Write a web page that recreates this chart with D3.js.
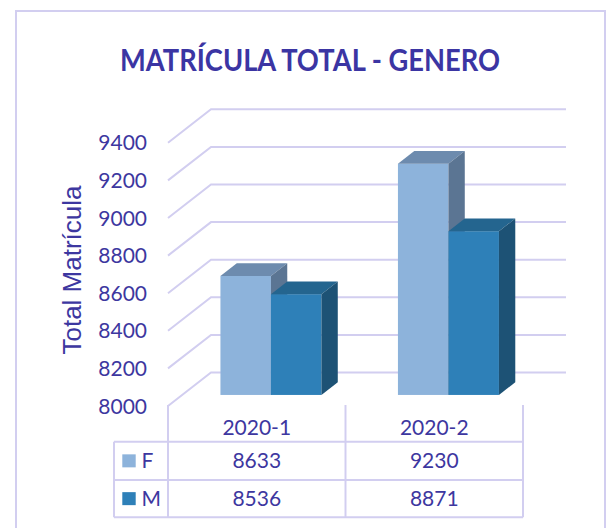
<!DOCTYPE html>
<html><head><meta charset="utf-8">
<script src="https://cdn.jsdelivr.net/npm/d3@7"></script>
<style>body{margin:0;background:#fff}</style>
</head><body>
<svg id="c" width="611" height="528"></svg>
<script>
const categories = ["2020-1", "2020-2"];
const seriesNames = ["F", "M"];
const valuesF = [8633, 9230];
const valuesM = [8536, 8871];
const yTicks = [8000, 8200, 8400, 8600, 8800, 9000, 9200, 9400];

const series = [
  {name: seriesNames[0], values: valuesF, front: "#8DB3DB", top: "#6D8BAE", side: "#5B7593"},
  {name: seriesNames[1], values: valuesM, front: "#2E80B8", top: "#24658F", side: "#1D5275"}
];

const svg = d3.select("#c");
const textCol = "#3D37A0";
const gridCol = "#D2CEF0";
const font = "Lato, 'Open Sans', sans-serif";

// 3D depth offset (back wall relative to front plane)
const DX = 43, DY = -33.5;
const z0 = 0.33, z1 = 0.71;

const x = d3.scaleBand().domain(categories).range([168, 523]).paddingInner(0).paddingOuter(0);
const xb = d3.scaleBand().domain(categories).range([168, 523]).paddingInner(0.431).paddingOuter(0.2155);
const xs = d3.scaleBand().domain(seriesNames).range([0, xb.bandwidth()]);
const y = d3.scaleLinear().domain([8000, 9400]).range([406, 142.8]);

// outer border
svg.append("rect").attr("x", 16).attr("y", 11).attr("width", 589).attr("height", 530)
  .attr("fill", "none").attr("stroke", gridCol).attr("stroke-width", 2);

// title
svg.append("text").attr("x", 310).attr("y", 71).attr("text-anchor", "middle")
  .attr("font-family", font).attr("font-weight", 700).attr("font-size", 30)
  .attr("textLength", 380).attr("lengthAdjust", "spacingAndGlyphs")
  .attr("fill", "#3B35A3").text("MATRÍCULA TOTAL - GENERO");

// gridlines: side wall diagonal + back wall horizontal
const x0 = x.range()[0], xEnd = x.range()[1];
svg.append("g").selectAll("path").data(yTicks).join("path")
  .attr("d", t => `M${x0},${y(t)} L${x0 + DX},${y(t) + DY} L${xEnd + DX},${y(t) + DY}`)
  .attr("fill", "none").attr("stroke", gridCol).attr("stroke-width", 2);

// y tick labels
svg.append("g").selectAll("text").data(yTicks).join("text")
  .attr("x", 147).attr("y", t => y(t)).attr("dy", "0.36em").attr("text-anchor", "end")
  .attr("font-family", font).attr("font-size", 21).attr("fill", textCol).text(t => t);

// axis title
svg.append("text").attr("transform", "translate(81,270) rotate(-90)").attr("text-anchor", "middle")
  .attr("font-family", "'Liberation Sans', Arial, sans-serif").attr("font-size", 26)
  .attr("fill", textCol).text("Total Matrícula");

// bars
const ox = DX * z0, oy = DY * z0;
const ddx = DX * (z1 - z0), ddy = DY * (z1 - z0);
const gBars = svg.append("g");
categories.forEach((c, i) => {
  series.forEach(s => {
    const xl = xb(c) + xs(s.name) + ox;
    const xr = xl + xs.bandwidth();
    const yt = y(s.values[i]) + oy;
    const yb = y(8000) + oy;
    gBars.append("rect").attr("x", xl).attr("y", yt).attr("width", xr - xl).attr("height", yb - yt)
      .attr("fill", s.front);
    gBars.append("path").attr("d", `M${xl},${yt} L${xl + ddx},${yt + ddy} L${xr + ddx},${yt + ddy} L${xr},${yt} Z`)
      .attr("fill", s.top);
    gBars.append("path").attr("d", `M${xr},${yt} L${xr + ddx},${yt + ddy} L${xr + ddx},${yb + ddy} L${xr},${yb} Z`)
      .attr("fill", s.side);
  });
});

// data table
const tTop = 405, r1 = 441.7, r2 = 480, r3 = 517.3, legL = 114;
const gT = svg.append("g").attr("stroke", gridCol).attr("stroke-width", 2).attr("fill", "none");
[r1, r2, r3].forEach(yy => gT.append("line").attr("x1", legL).attr("x2", xEnd).attr("y1", yy).attr("y2", yy));
gT.append("line").attr("x1", legL).attr("x2", legL).attr("y1", r1).attr("y2", r3);
[...categories.map(c => x(c)), xEnd].forEach(xx =>
  gT.append("line").attr("x1", xx).attr("x2", xx).attr("y1", tTop).attr("y2", r3));

svg.append("g").selectAll("text").data(categories).join("text")
  .attr("x", c => x(c) + x.bandwidth() / 2).attr("y", 427.5).attr("dy", "0.36em")
  .attr("text-anchor", "middle").attr("font-family", font).attr("font-size", 21)
  .attr("fill", textCol).text(c => c);

const rowMid = [(r1 + r2) / 2, (r2 + r3) / 2];
series.forEach((s, j) => {
  svg.append("rect").attr("x", 122.3).attr("y", rowMid[j] - 6.5).attr("width", 13.4).attr("height", 13)
    .attr("fill", s.front);
  svg.append("text").attr("x", 141.5).attr("y", rowMid[j]).attr("dy", "0.36em")
    .attr("font-family", font).attr("font-size", 21).attr("fill", textCol).text(s.name);
  svg.append("g").selectAll("text").data(categories).join("text")
    .attr("x", c => x(c) + x.bandwidth() / 2).attr("y", rowMid[j]).attr("dy", "0.36em")
    .attr("text-anchor", "middle").attr("font-family", font).attr("font-size", 21)
    .attr("fill", textCol).text((c, i) => s.values[i]);
});
</script>
</body></html>
